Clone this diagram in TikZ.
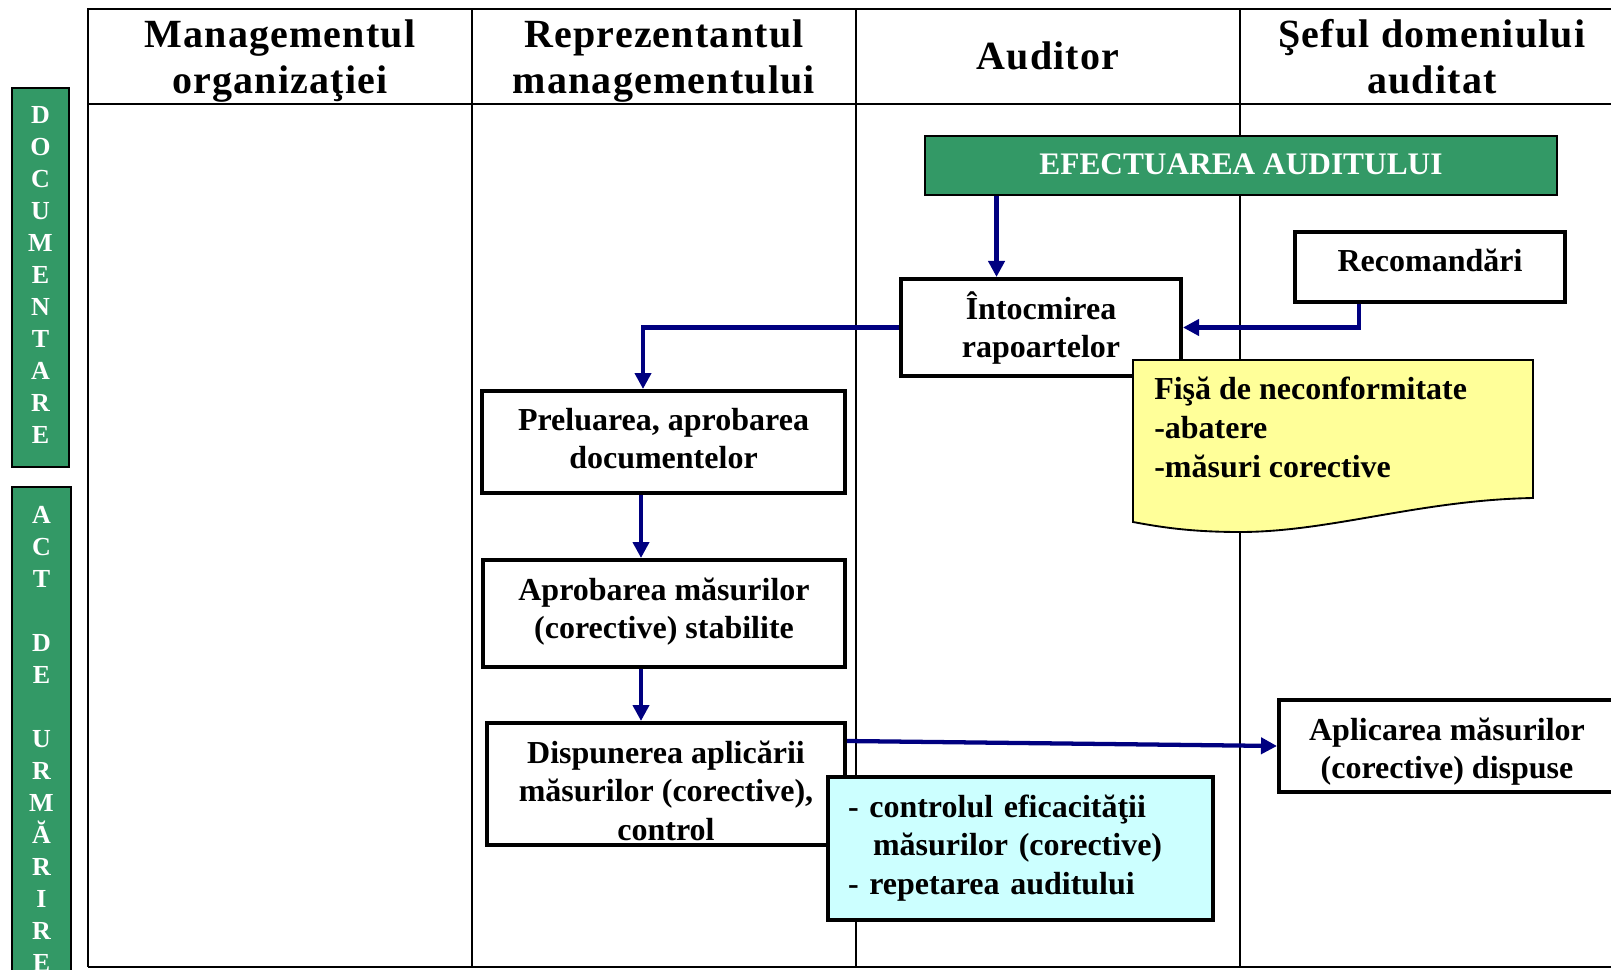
\documentclass[tikz,border=0pt]{standalone}
\usepackage{fontspec}
\setmainfont{Liberation Serif}
\usetikzlibrary{arrows.meta,calc}
\definecolor{grn}{RGB}{51,153,102}
\definecolor{nvy}{RGB}{0,0,128}
\definecolor{ylw}{RGB}{255,255,153}
\definecolor{cyn}{RGB}{204,255,255}
\newcommand\bxfont{\fontsize{24}{29}\selectfont\bfseries}
\newcommand\hdfont{\fontsize{30}{34.5}\selectfont\bfseries\addfontfeature{LetterSpace=3}}
\newcommand\sdfont{\fontsize{19.5}{24}\selectfont\bfseries}
\begin{document}
\begin{tikzpicture}[x=0.75pt,y=-0.75pt,
  tbl/.style={line width=1.4pt},
  bx/.style={draw, line width=3pt, fill=white, inner sep=0pt, align=center, font=\bxfont},
  arr/.style={draw=nvy, line width=3.2pt, -{Triangle[length=12pt,width=12pt]}},
  hd/.style={anchor=base, align=center, font=\hdfont, inner sep=0pt},
  side/.style={draw, line width=1.8pt, fill=grn, text=white, inner sep=0pt, align=center, font=\sdfont}]
\useasboundingbox (0,0) rectangle (1611,970);
\clip (0,0) rectangle (1611,970);

% table
\draw[tbl] (88,967) -- (88,9) -- (1615,9);
\draw[tbl] (88,104) -- (1615,104);
\draw[tbl] (88,967) -- (1615,967);
\draw[tbl] (472,9) -- (472,967);
\draw[tbl] (856,9) -- (856,967);
\draw[tbl] (1240,9) -- (1240,967);

% headers
\node[hd] (h1) at (280,94) {Managementul\\organizaţiei};
\node[hd] (h2) at (664,94) {Reprezentantul\\managementului};
\node[hd] (h3) at (1048,70) {Auditor};
\node[hd] (h4) at (1432,94) {Şeful domeniului\\auditat};

% side bars
\node[side, minimum width=42.75pt, text height=266.25pt, text depth=18pt] (sdoc) at (40.5,277.5)
  {D\\O\\C\\U\\M\\E\\N\\T\\A\\R\\E};
\node[side, minimum width=44.25pt, text height=363pt, text depth=21.75pt] (sact) at (41.5,743.5)
  {A\\C\\T\\[24pt]D\\E\\[24pt]U\\R\\M\\Ă\\R\\I\\R\\E};

% boxes
\node[bx, fill=grn, text=white, line width=2.2pt, font=\fontsize{23.5}{28}\selectfont\bfseries,
  minimum width=474pt, text height=29.25pt, text depth=15pt] (efect) at (1241,165.5) {EFECTUAREA AUDITULUI};
\node[bx, minimum width=210pt, text height=59pt, text depth=13.75pt] (intoc) at (1041,327.5) {Întocmirea\\rapoartelor};
\node[bx, minimum width=202.5pt, text height=30pt, text depth=22.5pt] (rec) at (1430,267) {Recomandări};
\node[bx, minimum width=272.25pt, text height=58.25pt, text depth=18.25pt] (prel) at (663.5,442) {Preluarea, aprobarea\\documentelor};
\node[bx, minimum width=271.5pt, text height=59pt, text depth=21.25pt] (apr) at (664,613.5) {Aprobarea măsurilor\\(corective) stabilite};
\node[bx, minimum width=268.5pt, text height=88pt, text depth=3.5pt] (disp) at (666,784) {Dispunerea aplicării\\măsurilor (corective),\\control};
\node[bx, minimum width=252pt, text height=59pt, text depth=10pt] (aplic) at (1447,746) {Aplicarea măsurilor\\(corective) dispuse};

% document shape
\draw[line width=1.4pt, fill=ylw] (1133,360) -- (1533,360) -- (1533,498)
  .. controls (1420,500) and (1330,532) .. (1240,532)
  .. controls (1190,532) and (1160,527) .. (1133,522) -- cycle;
\node[anchor=base west, align=left, inner sep=0pt, font=\bxfont] (fisa) at (1154,477)
  {Fişă de neconformitate\\-abatere\\-măsuri corective};

% cyan box
\node[bx, fill=cyn, align=left, text width=258.75pt, inner xsep=15pt, inner ysep=0pt,
  text height=30pt, text depth=77.25pt] (ctrl) at (1020.5,848.5)
  {- controlul eficacităţii\\\hspace*{18.75pt}măsurilor (corective)\\- repetarea auditului};

% connectors
\draw[arr] ($(efect.south west)+(73,0)$) coordinate (a1) -- (a1 |- intoc.north);
\draw[arr] (intoc.west) -| ($(prel.north west)+(163,0)$);
\draw[arr] ($(rec.south west)+(66,0)$) |- (intoc.east);
\draw[arr] ($(prel.south west)+(161,0)$) coordinate (d1) -- (d1 |- apr.north);
\draw[arr] ($(apr.south west)+(160,0)$) coordinate (e1) -- (e1 |- disp.north);
\draw[arr] ($(disp.north east)+(0,20)$) -- (aplic.west);
\end{tikzpicture}
\end{document}
